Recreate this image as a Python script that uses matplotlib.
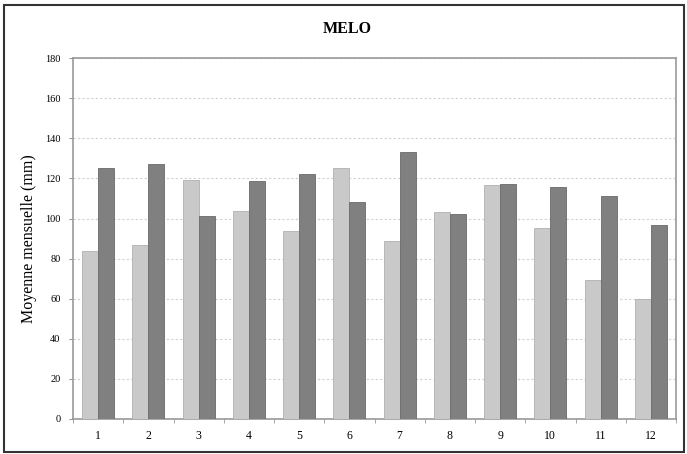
import matplotlib
matplotlib.use('Agg')
import matplotlib.pyplot as plt
from matplotlib.patches import Rectangle
from matplotlib.ticker import FixedLocator, NullFormatter
import numpy as np

months = [1, 2, 3, 4, 5, 6, 7, 8, 9, 10, 11, 12]
serie_claire = [83.7, 87.0, 119.0, 103.8, 93.6, 125.0, 88.6, 103.0, 116.5, 95.4, 69.3, 60.0]
serie_foncee = [125.0, 127.3, 101.2, 118.8, 122.3, 108.0, 133.3, 102.2, 117.1, 115.6, 111.3, 97.0]
y_ticks = [0, 20, 40, 60, 80, 100, 120, 140, 160, 180]

plt.rcParams['font.family'] = ['Liberation Serif', 'DejaVu Serif']

fig = plt.figure(figsize=(6.87, 4.54), dpi=100)
ax = fig.add_axes([0.1063, 0.0771, 0.8777, 0.7949])

x = np.arange(len(months))
w = 0.32
ax.bar(x - w / 2, serie_claire, w, color='#c9c9c9', edgecolor='#b0b0b0', linewidth=0.6, zorder=3)
ax.bar(x + w / 2, serie_foncee, w, color='#808080', edgecolor='#6a6a6a', linewidth=0.6, zorder=3)

ax.set_xlim(-0.5, len(months) - 0.5)
ax.set_ylim(0, 180)
ax.set_yticks(y_ticks)
ax.set_yticklabels([str(v) for v in y_ticks], fontsize=7.5)
ax.set_xticks(x)
ax.set_xticklabels([str(m) for m in months], fontsize=8.5)
ax.tick_params(axis='x', length=0, pad=8)
ax.tick_params(axis='y', length=3, color='#999999', pad=6)
ax.xaxis.set_minor_locator(FixedLocator(np.arange(-0.5, len(months), 1.0)))
ax.xaxis.set_minor_formatter(NullFormatter())
ax.tick_params(axis='x', which='minor', length=3, color='#999999')

ax.grid(axis='y', linestyle=(0, (2, 2)), color='#d0d0d0', linewidth=0.8, zorder=0)
for s in ax.spines.values():
    s.set_color('#999999')
    s.set_linewidth(1.2)

ax.set_ylabel('Moyenne mensuelle (mm)', fontsize=11.5, labelpad=6)
fig.text(0.505, 0.937, 'MELO', ha='center', va='center', fontsize=11.5, fontweight='bold')

fig.patches.append(Rectangle((0.006, 0.004), 0.99, 0.985, transform=fig.transFigure,
                             fill=False, edgecolor='#333333', linewidth=1.5))

fig.savefig('out.png', dpi=100)
